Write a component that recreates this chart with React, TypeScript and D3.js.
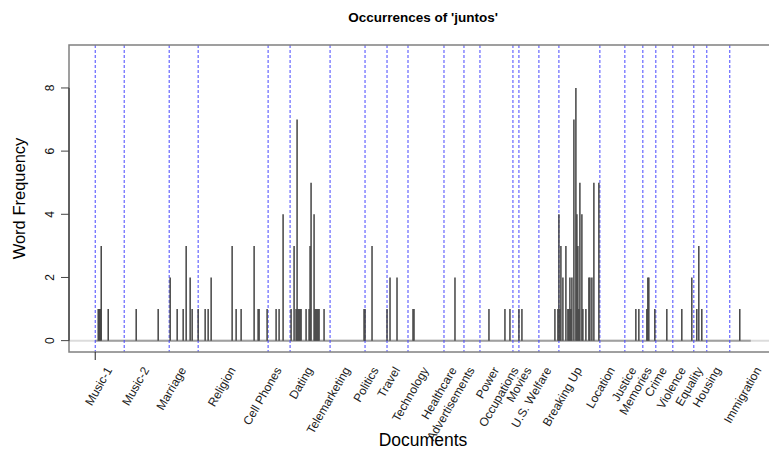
import React from "react";
import * as d3 from "d3";

// Document sections (topic groups), in corpus order
const sectionNames = [
  "Music-1", "Music-2", "Marriage", "Religion", "Cell Phones", "Dating",
  "Telemarketing", "Politics", "Travel", "Technology", "Healthcare",
  "Advertisements", "Power", "Occupations", "Movies", "U.S. Welfare",
  "Breaking Up", "Location", "Justice", "Memories", "Crime", "Violence",
  "Equality", "Housing", "Immigration",
];
// First document index of each section
const sectionStarts = [
  1, 30, 75, 104, 174, 196, 236, 271, 293, 314, 350, 370, 386, 419, 425,
  445, 465, 506, 531, 549, 562, 579, 600, 613, 636,
];
// Nominal end of the last section (used for label placement)
const lastSectionEnd = 694;
const docCount = 657;

// Documents in which the word occurs, and how often
const occurrenceDocs = [
  4, 5, 6, 7, 14,
  42, 64,
  76, 83, 89, 92, 96, 98,
  104, 111, 114, 117, 138, 142, 147, 160, 164, 165, 173,
  182, 185, 189,
  197, 200, 202, 203, 204, 205, 206, 207, 212, 215, 216, 217, 220, 221, 222, 223, 224, 225, 230,
  270, 271, 278,
  293, 296, 303,
  319, 320,
  361,
  395, 411, 416,
  425, 428,
  461, 464,
  465, 466, 467, 469, 472, 474, 475, 476, 477, 478, 480, 482, 483, 484, 485, 486, 488, 489, 492, 495, 496, 498, 500, 505,
  542, 545,
  553, 554, 555, 561,
  573, 588, 598, 603, 605, 608,
  646,
];
const occurrenceCounts = [
  1, 1, 1, 3, 1,
  1, 1,
  2, 1, 1, 3, 2, 1,
  1, 1, 1, 2, 3, 1, 1, 3, 1, 1, 1,
  1, 1, 4,
  1, 3, 1, 7, 1, 1, 1, 1, 1, 1, 3, 5, 4, 1, 1, 1, 1, 1, 1,
  1, 1, 3,
  1, 2, 2,
  1, 1,
  2,
  1, 1, 1,
  1, 1,
  1, 1,
  4, 1, 3, 2, 3, 1, 1, 2, 1, 2, 7, 8, 4, 3, 1, 5, 4, 1, 1, 2, 2, 2, 5, 5,
  1, 1,
  1, 2, 2, 1,
  1, 1, 2, 1, 3, 1,
  1,
];
const yTicks = [0, 2, 4, 6, 8];

const W = 769;
const H = 449;
const plot = { left: 69, right: 777, top: 45, bottom: 352 };
const FONT = "'Liberation Sans', Arial, Helvetica, sans-serif";

export default function App() {
  const pad = 0.04 * (docCount - 1);
  const x = d3
    .scaleLinear()
    .domain([1 - pad, docCount + pad])
    .range([plot.left, plot.right]);
  const yPad = 0.04 * 9;
  const y = d3
    .scaleLinear()
    .domain([0 - yPad, 9 + yPad])
    .range([plot.bottom, plot.top]);

  const bars = occurrenceDocs.map((d, i) => ({ doc: d, n: occurrenceCounts[i] }));
  const labelPos = sectionStarts.map((s, i) => {
    const end = i < sectionStarts.length - 1 ? sectionStarts[i + 1] : lastSectionEnd;
    return (s + end) / 2;
  });

  return (
    <svg
      width={W}
      height={H}
      style={{ position: "absolute", left: 0, top: 0, background: "#fff" }}
      fontFamily={FONT}
    >
      <defs>
        <clipPath id="plotArea">
          <rect x={plot.left} y={plot.top} width={plot.right - plot.left} height={plot.bottom - plot.top} />
        </clipPath>
      </defs>

      <g clipPath="url(#plotArea)">
        {/* zero reference line */}
        <line x1={plot.left} x2={plot.right} y1={y(0)} y2={y(0)} stroke="#dcdcdc" strokeWidth={2} />
        <line x1={x(1)} x2={x(docCount)} y1={y(0)} y2={y(0)} stroke="#a0a0a0" strokeWidth={2} />

        {/* section boundaries */}
        {sectionStarts.map((s, i) => (
          <line
            key={"sec" + i}
            x1={x(s)}
            x2={x(s)}
            y1={plot.top}
            y2={plot.bottom}
            stroke="#4646ff"
            strokeWidth={1}
            strokeDasharray="3,2"
          />
        ))}

        {/* occurrence bars */}
        {bars.map((b, i) => (
          <line
            key={"b" + i}
            x1={x(b.doc)}
            x2={x(b.doc)}
            y1={y(0)}
            y2={y(b.n)}
            stroke="#444"
            strokeWidth={1.5}
          />
        ))}
      </g>

      {/* plot frame */}
      <rect
        x={plot.left}
        y={plot.top}
        width={plot.right - plot.left}
        height={plot.bottom - plot.top}
        fill="none"
        stroke="#808080"
        strokeWidth={1.5}
      />

      {/* y axis */}
      <line x1={plot.left} x2={plot.left} y1={y(0)} y2={y(8)} stroke="#222" strokeWidth={1} />
      {yTicks.map((t) => (
        <g key={"yt" + t}>
          <line x1={plot.left - 8} x2={plot.left} y1={y(t)} y2={y(t)} stroke="#444" strokeWidth={1} />
          <text
            transform={`translate(${plot.left - 15},${y(t)}) rotate(-90)`}
            textAnchor="middle"
            fontSize={12}
            fill="#111"
          >
            {t}
          </text>
        </g>
      ))}

      {/* x axis tick */}
      <line x1={x(1)} x2={x(1)} y1={plot.bottom} y2={plot.bottom + 8} stroke="#222" strokeWidth={1} />

      {/* section labels */}
      {sectionNames.map((name, i) => (
        <text
          key={"lab" + i}
          transform={`translate(${x(labelPos[i]) + 3},${370}) rotate(-60)`}
          textAnchor="end"
          fontSize={12}
          fill="#222"
        >
          {name}
        </text>
      ))}

      {/* titles */}
      <text x={(plot.left + plot.right) / 2} y={22} textAnchor="middle" fontSize={13.5} fontWeight="bold" fill="#000">
        Occurrences of 'juntos'
      </text>
      <text x={(plot.left + plot.right) / 2} y={446} textAnchor="middle" fontSize={17.5} fill="#000">
        Documents
      </text>
      <text
        transform={`translate(25,${(plot.top + plot.bottom) / 2}) rotate(-90)`}
        textAnchor="middle"
        fontSize={16.5}
        fill="#000"
      >
        Word Frequency
      </text>
    </svg>
  );
}
